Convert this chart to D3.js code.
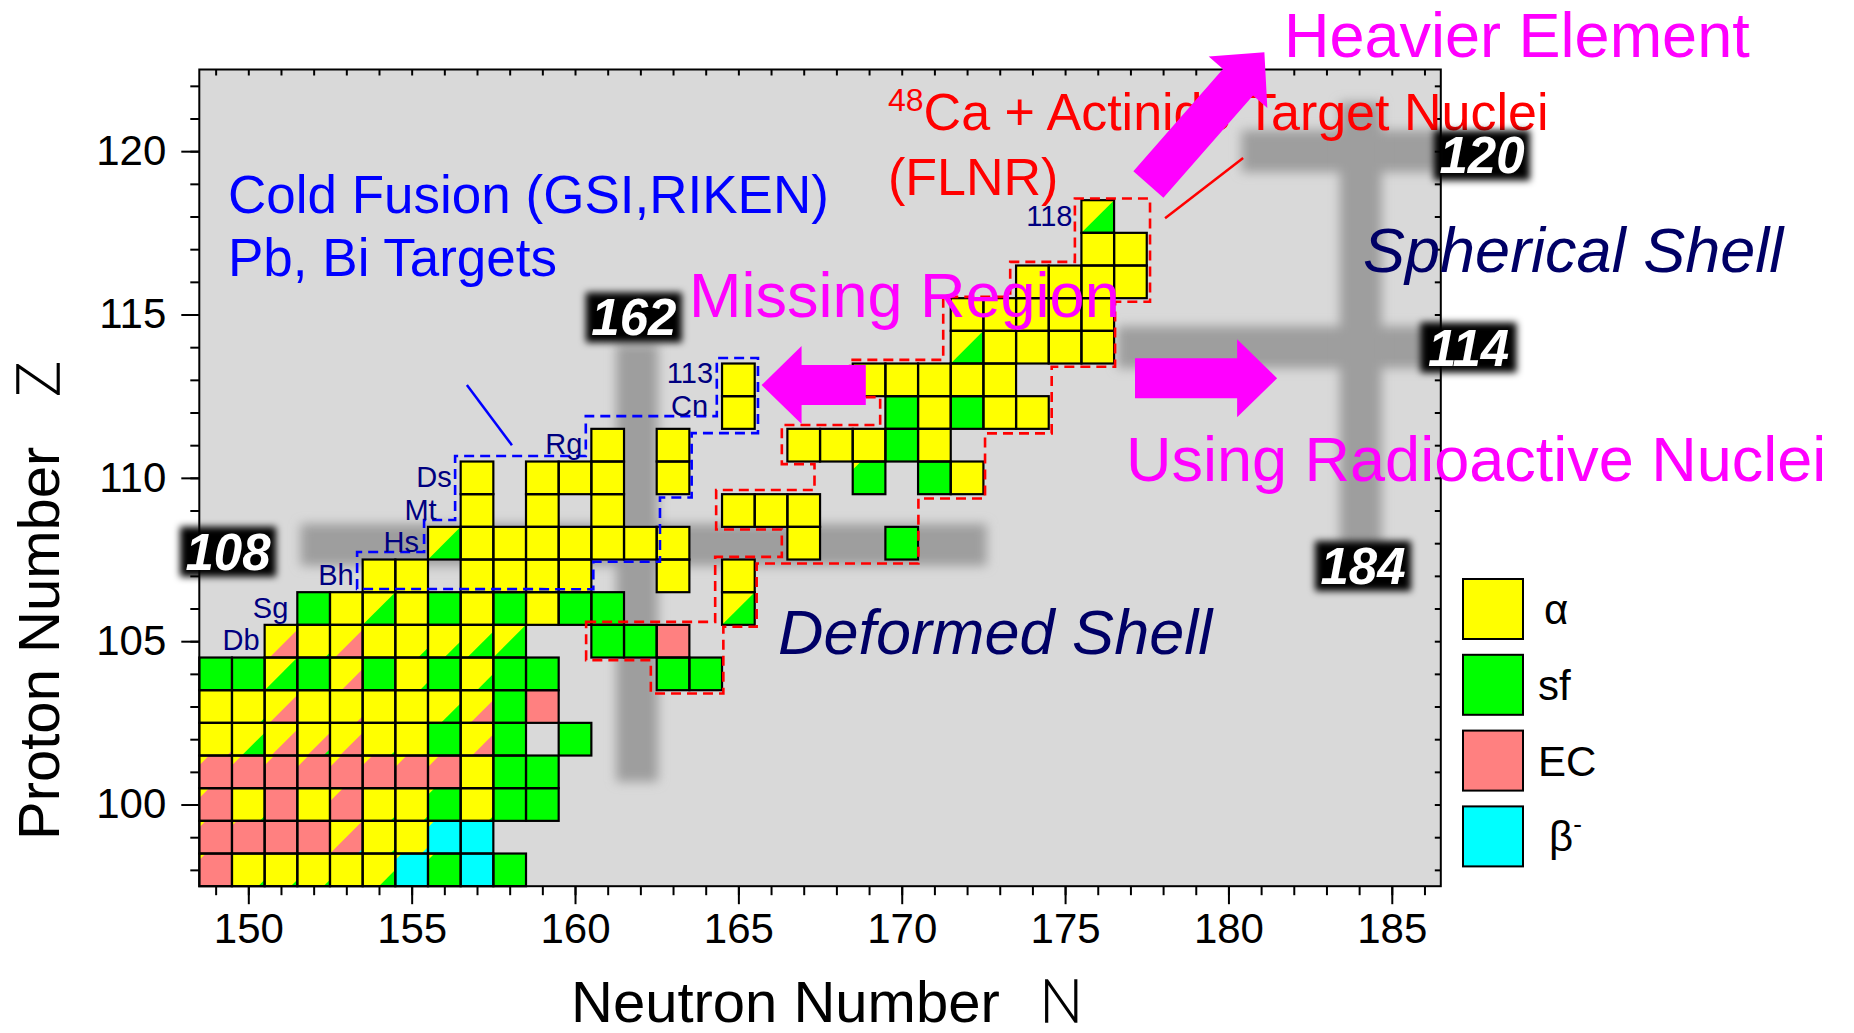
<!DOCTYPE html>
<html>
<head>
<meta charset="utf-8">
<script src="https://cdn.jsdelivr.net/npm/d3@7/dist/d3.min.js"></script>
<style>
  body { margin: 0; background: #fff; }
  svg { display: block; font-family: "Liberation Sans", Arial, sans-serif; }
</style>
</head>
<body>
<div id="chart"></div>
<script>
// decay codes: a = alpha, s = sf, e = EC, b = beta-
// "a 1.2 e" -> alpha in the upper left, EC beyond the diagonal line u+v = 1.2
var xMajorTicks = [150, 155, 160, 165, 170, 175, 180, 185];
var yMajorTicks = [100, 105, 110, 115, 120];

var nuclidesLow = [
  [149,98,"a 0.2 e"],[150,98,"a 1.8 s"],[151,98,"a 1.8 s"],[152,98,"a 1.8 s"],[153,98,"a"],[154,98,"a 1.5 s"],[155,98,"a 0.2 b"],[156,98,"a 0.2 s"],[157,98,"b"],[158,98,"s"],
  [149,99,"a 0.2 e"],[150,99,"a 0.15 e"],[151,99,"e"],[152,99,"e"],[153,99,"a 1 e 1.85 b"],[154,99,"a 1.85 s"],[155,99,"a 1.8 b"],[156,99,"a 0.2 b"],[157,99,"b"],
  [149,100,"a 0.3 e"],[150,100,"a 1.85 s"],[151,100,"e"],[152,100,"a"],[153,100,"a 0.4 e 1.9 s"],[154,100,"a 1.85 s"],[155,100,"a 1.85 s"],[156,100,"a 0.2 s"],[157,100,"a 1.85 s"],[158,100,"s"],[159,100,"s"],
  [149,101,"a 0.3 e"],[150,101,"a 0.3 e"],[151,101,"a 0.3 e"],[152,101,"a 0.35 e"],[153,101,"a 0.35 e"],[154,101,"a 0.3 e"],[155,101,"a 0.35 e"],[156,101,"a 0.35 e"],[157,101,"a"],[158,101,"s"],[159,101,"s"],
  [149,102,"a 1.85 e"],[150,102,"a 1.3 s"],[151,102,"a 1.2 e"],[152,102,"a 1.3 e 1.8 s"],[153,102,"a 1.3 e"],[154,102,"a 1.85 s"],[155,102,"a"],[156,102,"s"],[157,102,"a 1.35 e"],[158,102,"s"],[160,102,"s"],
  [149,103,"a"],[150,103,"a 1.85 s"],[151,103,"a 1.15 e"],[152,103,"a"],[153,103,"a 1.8 e"],[154,103,"a"],[155,103,"a"],[156,103,"a 1.4 s"],[157,103,"a 1.3 e"],[158,103,"s"],[159,103,"e"],
  [149,104,"s"],[150,104,"s"],[151,104,"a 1 s"],[152,104,"s"],[153,104,"a 1.35 e 1.9 s"],[154,104,"s"],[155,104,"a 1.75 s"],[156,104,"s"],[157,104,"a 1.5 s"],[158,104,"s"],[159,104,"s"],
  [151,105,"a 1.15 e"],[152,105,"a 1.85 s"],[153,105,"a 1.15 e"],[154,105,"a"],[155,105,"a 1.7 s"],[156,105,"a 1.5 s"],[157,105,"a 1.2 s"],[158,105,"a 1 s"],
  [152,106,"s"],[153,106,"a"],[154,106,"a 1 s"],[155,106,"a"],[156,106,"s"],[157,106,"a"],[158,106,"s"],[159,106,"a"],[160,106,"s"],[161,106,"s"]
];

var nuclidesCold = [
  [154,107,"a"],[155,107,"a"],[157,107,"a"],[158,107,"a"],[159,107,"a"],[160,107,"a"],[163,107,"a"],
  [156,108,"a 1 s"],[157,108,"a"],[158,108,"a"],[159,108,"a"],[160,108,"a"],[161,108,"a"],[162,108,"a"],[163,108,"a"],
  [157,109,"a"],[159,109,"a"],[161,109,"a"],
  [157,110,"a"],[159,110,"a"],[160,110,"a"],[161,110,"a"],[163,110,"a"],
  [161,111,"a"],[163,111,"a"],
  [165,112,"a"],[165,113,"a"]
];

var nuclidesHot = [
  [161,105,"s"],[162,105,"s"],[163,105,"e"],[163,104,"s"],[164,104,"s"],
  [165,106,"a 1 s"],[165,107,"a"],
  [165,109,"a"],[166,109,"a"],[167,109,"a"],[167,108,"a"],[170,108,"s"],
  [169,110,"a 0.25 s"],[171,110,"s"],[172,110,"a"],
  [167,111,"a"],[168,111,"a"],[169,111,"a"],[170,111,"s"],[171,111,"a"],
  [170,112,"s"],[171,112,"a"],[172,112,"s"],[173,112,"a"],[174,112,"a"],
  [169,113,"a"],[170,113,"a"],[171,113,"a"],[172,113,"a"],[173,113,"a"],
  [172,114,"a 1 s"],[173,114,"a"],[174,114,"a"],[175,114,"a"],[176,114,"a"],
  [172,115,"a"],[173,115,"a"],[174,115,"a"],[175,115,"a"],[176,115,"a"],
  [174,116,"a"],[175,116,"a"],[176,116,"a"],[177,116,"a"],
  [176,117,"a"],[177,117,"a"],
  [176,118,"a 1 s"]
];

// element name, first N of the row, Z
var elementLabels = [
  ["Db",151,105],["Sg",152,106],["Bh",154,107],["Hs",156,108],["Mt",157,109],
  ["Ds",157,110],["Rg",161,111],["Cn",165,112],["113",165,113],["118",176,118]
];

// shell-closure bands: direction, centre value, extent
var shellBands = [
  ["h", 107.95, 151.6, 172.6],
  ["v", 161.9, 100.7, 114.1],
  ["h", 114, 176.6, 187.5],
  ["h", 120, 180.4, 187.5],
  ["v", 184.05, 107.9, 121.5]
];

var magicLabels = [["108",149.38,107.74],["162",161.8,114.91],["120",187.76,119.87],["114",187.35,113.99],["184",184.12,107.3]];

// dashed outlines (N, Z)
var coldOutline = [
  [153.33,106.6],[153.33,107.73],[155.38,107.73],[155.38,108.71],[156.33,108.71],[156.33,110.67],
  [160.33,110.67],[160.33,111.89],[164.34,111.89],[164.34,113.67],[165.6,113.67],[165.6,111.37],
  [163.57,111.37],[163.57,109.4],[162.6,109.4],[162.6,107.43],[160.56,107.43],[160.56,106.59]
];
var hotOutline = [
  [160.34,105.59],[164.29,105.59],[164.29,107.58],[166.33,107.58],[166.33,108.42],[164.32,108.42],
  [164.32,109.63],[167.33,109.63],[167.33,110.42],[166.33,110.42],[166.33,111.62],[169.34,111.62],
  [169.34,112.47],[168.42,112.47],[168.42,113.61],[171.27,113.61],[171.27,115.54],[173.32,115.54],
  [173.32,116.61],[175.3,116.61],[175.3,118.55],[177.6,118.55],[177.6,115.39],[176.53,115.39],
  [176.53,113.4],[174.59,113.4],[174.59,111.36],[172.55,111.36],[172.55,109.37],[170.51,109.37],
  [170.51,107.38],[165.56,107.38],[165.56,105.44],[164.54,105.44],[164.54,103.4],[162.32,103.4],
  [162.32,104.42],[160.34,104.42]
];

var legendItems = [["α","a"],["sf","s"],["EC","e"],["β","b"]];

var colors = {a: "#ffff00", s: "#00ff00", e: "#ff8080", b: "#00ffff"};

var W = 1854, H = 1033;
var x = d3.scaleLinear().domain([148.5, 186.5]).range([199.3, 1440.8]);
var y = d3.scaleLinear().domain([97.5, 122.5]).range([886.2, 69.5]);
var cw = x(1) - x(0), ch = y(0) - y(1);

var svg = d3.select("#chart").append("svg")
  .attr("width", W)
  .attr("height", H);

var defs = svg.append("defs");
defs.append("filter").attr("id", "soft")
  .attr("filterUnits", "userSpaceOnUse")
  .attr("x", 0).attr("y", 0).attr("width", W).attr("height", H)
  .append("feGaussianBlur").attr("stdDeviation", 5.5);
defs.append("filter").attr("id", "halo")
  .attr("x", "-40%").attr("y", "-60%").attr("width", "180%").attr("height", "220%")
  .append("feGaussianBlur").attr("stdDeviation", 3.5);
defs.append("clipPath").attr("id", "plotClip")
  .append("rect")
  .attr("x", x(148.5)).attr("y", y(122.5))
  .attr("width", x(186.5) - x(148.5)).attr("height", y(97.5) - y(122.5));

// plot background
svg.append("rect")
  .attr("x", x(148.5)).attr("y", y(122.5))
  .attr("width", x(186.5) - x(148.5)).attr("height", y(97.5) - y(122.5))
  .attr("fill", "#d9d9d9");

// blurred shell bands
var bandHalf = 0.64;
svg.append("g")
  .attr("clip-path", "url(#plotClip)")
  .selectAll("rect")
  .data(shellBands)
  .join("rect")
  .attr("x", function(d) { return d[0] == "h" ? x(d[2]) : x(d[1] - bandHalf); })
  .attr("y", function(d) { return d[0] == "h" ? y(d[1] + bandHalf) : y(d[3]); })
  .attr("width", function(d) { return d[0] == "h" ? x(d[3]) - x(d[2]) : x(d[1] + bandHalf) - x(d[1] - bandHalf); })
  .attr("height", function(d) { return d[0] == "h" ? y(d[1] - bandHalf) - y(d[1] + bandHalf) : y(d[2]) - y(d[3]); })
  .attr("fill", "#9e9e9e")
  .attr("filter", "url(#soft)");

// nuclide cells
function pieces(code) {
  var t = code.split(" ");
  var out = [{c: t[0], p: null}];
  for (var i = 1; i < t.length; i += 2) out.push({c: t[i + 1], p: +t[i]});
  return out;
}
function cornerPts(p) {
  var pts = p >= 1 ? [[1, p - 1], [1, 1], [p - 1, 1]] : [[p, 0], [1, 0], [1, 1], [0, 1], [0, p]];
  return pts.map(function(d) { return [d[0] * cw, d[1] * ch]; }).join(" ");
}

var allCells = nuclidesLow.concat(nuclidesCold, nuclidesHot);
svg.append("g").selectAll("g")
  .data(allCells)
  .join("g")
  .attr("transform", function(d) { return "translate(" + x(d[0] - 0.5) + "," + y(d[1] + 0.5) + ")"; })
  .each(function(d) {
    var g = d3.select(this);
    pieces(d[2]).forEach(function(pc) {
      if (pc.p === null) {
        g.append("rect").attr("width", cw).attr("height", ch).attr("fill", colors[pc.c]);
      } else {
        g.append("polygon").attr("points", cornerPts(pc.p)).attr("fill", colors[pc.c]);
      }
    });
  });
svg.append("g").selectAll("rect")
  .data(allCells)
  .join("rect")
  .attr("x", function(d) { return x(d[0] - 0.5); })
  .attr("y", function(d) { return y(d[1] + 0.5); })
  .attr("width", cw).attr("height", ch)
  .attr("fill", "none").attr("stroke", "#000").attr("stroke-width", 2.2);

// dashed outlines
var line = d3.line().x(function(d) { return x(d[0]); }).y(function(d) { return y(d[1]); });
svg.append("path").attr("d", line(coldOutline) + "Z")
  .attr("fill", "none").attr("stroke", "#0000ff").attr("stroke-width", 2.6).attr("stroke-dasharray", "10,6");
svg.append("path").attr("d", line(hotOutline) + "Z")
  .attr("fill", "none").attr("stroke", "#ff0000").attr("stroke-width", 2.6).attr("stroke-dasharray", "10,6");

// element labels
svg.append("g").selectAll("text")
  .data(elementLabels)
  .join("text")
  .attr("x", function(d) { return x(d[1] - 0.5) - (d[0] == "Mt" ? 24 : d[0] == "Cn" ? 14 : d[0] == "Db" ? 5 : 9); })
  .attr("y", function(d) { return y(d[2]) + (d[0] == "Cn" ? 3 : d[0] == "113" ? 3 : 9); })
  .attr("text-anchor", "end")
  .attr("font-size", 29)
  .attr("fill", "#000080")
  .text(function(d) { return d[0]; });

// plot frame
svg.append("rect")
  .attr("x", x(148.5)).attr("y", y(122.5))
  .attr("width", x(186.5) - x(148.5)).attr("height", y(97.5) - y(122.5))
  .attr("fill", "none").attr("stroke", "#000").attr("stroke-width", 2);

// axes
function styleAxis(g) {
  g.select(".domain").remove();
  g.selectAll(".tick line").attr("stroke", "#000").attr("stroke-width", 2);
  g.selectAll(".tick text").attr("font-family", "Liberation Sans, Arial, sans-serif").attr("font-size", 42).attr("fill", "#000");
}
svg.append("g").attr("transform", "translate(0," + y(97.5) + ")")
  .call(d3.axisBottom(x).tickValues(d3.range(149, 187)).tickSize(9).tickFormat(""))
  .call(styleAxis);
svg.append("g").attr("transform", "translate(0," + y(97.5) + ")")
  .call(d3.axisBottom(x).tickValues(xMajorTicks).tickSize(18).tickPadding(9).tickFormat(d3.format("d")))
  .call(styleAxis);
svg.append("g").attr("transform", "translate(0," + y(122.5) + ")")
  .call(d3.axisTop(x).tickValues(d3.range(149, 187)).tickSize(-6).tickFormat(""))
  .call(styleAxis);
svg.append("g").attr("transform", "translate(" + x(148.5) + ",0)")
  .call(d3.axisLeft(y).tickValues(d3.range(98, 123)).tickSize(9).tickFormat(""))
  .call(styleAxis);
svg.append("g").attr("transform", "translate(" + x(148.5) + ",0)")
  .call(d3.axisLeft(y).tickValues(yMajorTicks).tickSize(18).tickPadding(15).tickFormat(d3.format("d")))
  .call(styleAxis);
svg.append("g").attr("transform", "translate(" + x(186.5) + ",0)")
  .call(d3.axisRight(y).tickValues(d3.range(98, 123)).tickSize(-6).tickFormat(""))
  .call(styleAxis);

// axis titles
svg.append("text").attr("x", 571).attr("y", 1022).attr("font-size", 58).text("Neutron Number");
svg.append("text").attr("x", 1040).attr("y", 1022).attr("font-size", 60)
  .attr("font-family", "Roboto, Lato, sans-serif").attr("font-weight", 100)
  .attr("stroke", "#000").attr("stroke-width", 1.6).text("N");
svg.append("text").attr("transform", "translate(59,840) rotate(-90)").attr("font-size", 58).text("Proton Number");
svg.append("text").attr("transform", "translate(59,397) rotate(-90)").attr("font-size", 60)
  .attr("font-family", "Roboto, Lato, sans-serif").attr("font-weight", 100)
  .attr("stroke", "#000").attr("stroke-width", 1.6).text("Z");

// annotations
var notes = svg.append("g");
notes.append("text").attr("x", 228).attr("y", 213).attr("font-size", 53).attr("fill", "#0000ff").text("Cold Fusion (GSI,RIKEN)");
notes.append("text").attr("x", 228).attr("y", 276).attr("font-size", 53).attr("fill", "#0000ff").text("Pb, Bi Targets");
var ca = notes.append("text").attr("x", 888).attr("y", 130).attr("font-size", 52).attr("fill", "#ff0000");
ca.append("tspan").attr("font-size", 32).attr("dy", -19).text("48");
ca.append("tspan").attr("dy", 19).text("Ca + Actinide Target Nuclei");
notes.append("text").attr("x", 888).attr("y", 195).attr("font-size", 52).attr("fill", "#ff0000").text("(FLNR)");
notes.append("text").attr("x", 778).attr("y", 654).attr("font-size", 63).attr("font-style", "italic").attr("fill", "#000066").text("Deformed Shell");
notes.append("text").attr("x", 1363).attr("y", 272).attr("font-size", 63).attr("font-style", "italic").attr("fill", "#000066").text("Spherical Shell");

// pointer lines
svg.append("line")
  .attr("x1", x(156.69)).attr("y1", y(112.84)).attr("x2", x(158.07)).attr("y2", y(111.0))
  .attr("stroke", "#0000ff").attr("stroke-width", 2.5);
svg.append("line")
  .attr("x1", x(180.45)).attr("y1", y(119.79)).attr("x2", x(178.06)).attr("y2", y(117.95))
  .attr("stroke", "#ff0000").attr("stroke-width", 2.5);

// magenta arrows: tail (N,Z), tip (N,Z)
var arrows = [
  [[177.55, 118.98], [181.1, 123.03]],
  [[168.9, 112.84], [165.71, 112.84]],
  [[177.14, 113.05], [181.49, 113.05]]
];
function arrowPts(a) {
  var x0 = x(a[0][0]), y0 = y(a[0][1]), x1 = x(a[1][0]), y1 = y(a[1][1]);
  var len = Math.hypot(x1 - x0, y1 - y0), ux = (x1 - x0) / len, uy = (y1 - y0) / len;
  var px = -uy, py = ux, sw = 20, hw = 39, hl = 40;
  var bx = x1 - ux * hl, by = y1 - uy * hl;
  return [
    [x0 + px * sw, y0 + py * sw], [bx + px * sw, by + py * sw], [bx + px * hw, by + py * hw],
    [x1, y1],
    [bx - px * hw, by - py * hw], [bx - px * sw, by - py * sw], [x0 - px * sw, y0 - py * sw]
  ].join(" ");
}
svg.append("g").selectAll("polygon")
  .data(arrows)
  .join("polygon")
  .attr("points", arrowPts)
  .attr("fill", "#ff00ff");

var mag = svg.append("g").attr("fill", "#ff00ff").attr("font-size", 63);
mag.append("text").attr("x", 1284).attr("y", 57).text("Heavier Element");
mag.append("text").attr("x", 689).attr("y", 317).text("Missing Region");
mag.append("text").attr("x", 1126).attr("y", 481).text("Using Radioactive Nuclei");

// magic number tags
var tags = svg.append("g").selectAll("g")
  .data(magicLabels)
  .join("g")
  .attr("transform", function(d) { return "translate(" + x(d[1]) + "," + y(d[2]) + ")"; });
tags.append("rect")
  .attr("x", -48).attr("y", -25).attr("width", 96).attr("height", 50)
  .attr("fill", "#000").attr("filter", "url(#halo)");
tags.append("text")
  .attr("text-anchor", "middle").attr("dy", 18)
  .attr("font-size", 51).attr("font-weight", "bold").attr("font-style", "italic")
  .attr("fill", "#fff")
  .text(function(d) { return d[0]; });

// legend
var legend = svg.append("g").selectAll("g")
  .data(legendItems)
  .join("g")
  .attr("transform", function(d, i) { return "translate(1463," + (579 + i * 75.8) + ")"; });
legend.append("rect")
  .attr("width", 60).attr("height", 60)
  .attr("fill", function(d) { return colors[d[1]]; })
  .attr("stroke", "#000").attr("stroke-width", 2);
legend.append("text")
  .attr("x", function(d) { return d[0] == "α" ? 81 : d[0] == "β" ? 86 : 75; })
  .attr("y", 45)
  .attr("font-size", 42)
  .each(function(d) {
    var t = d3.select(this);
    t.append("tspan").text(d[0]);
    if (d[0] == "β") t.append("tspan").attr("font-size", 26).attr("dy", -18).text("-");
  });
</script>
</body>
</html>
